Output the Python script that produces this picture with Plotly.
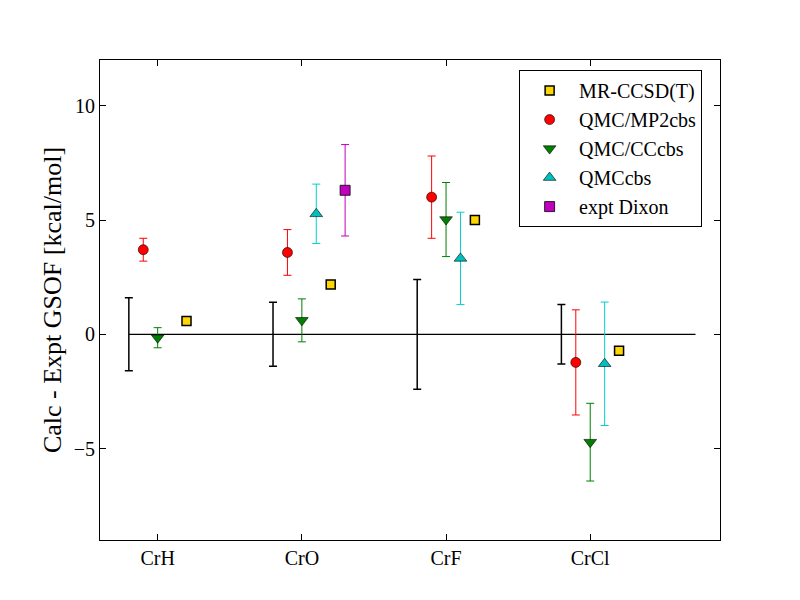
import plotly.graph_objects as go

categories = ["CrH", "CrO", "CrF", "CrCl"]
cat_pos = [1, 2, 3, 4]

# expt uncertainty (black bars)
expt_err = [1.6, 1.4, 2.4, 1.3]

mr_vals = [0.58, 2.18, 5.0, -0.72]

mp2_vals = [3.7, 3.58, 6.0, -1.23]
mp2_err = [0.5, 1.0, 1.8, 2.3]

cc_vals = [-0.15, 0.61, 5.02, -4.72]
cc_err = [0.44, 0.94, 1.62, 1.7]

qmc_cats = [2, 3, 4]
qmc_vals = [5.27, 3.32, -1.29]
qmc_err = [1.3, 2.02, 2.7]

dixon_cats = [2]
dixon_vals = [6.3]
dixon_err = [2.0]

zero_line_x = [0.8, 4.73]
zero_line_y = [0, 0]

FONT = "Liberation Serif"

fig = go.Figure()

# zero line
fig.add_trace(go.Scatter(x=zero_line_x, y=zero_line_y, mode="lines",
                         line=dict(color="black", width=1.3), showlegend=False,
                         hoverinfo="skip"))
# experimental uncertainty bars
fig.add_trace(go.Scatter(x=[c - 0.2 for c in cat_pos], y=[0] * 4, mode="markers",
                         marker=dict(size=1, color="black", opacity=0),
                         error_y=dict(type="data", array=expt_err, visible=True,
                                      color="black", thickness=1.5, width=4),
                         showlegend=False, hoverinfo="skip"))

fig.add_trace(go.Scatter(x=[c + 0.2 for c in cat_pos], y=mr_vals, mode="markers",
                         name="MR-CCSD(T)",
                         marker=dict(symbol="square", size=9, color="#FFD700",
                                     line=dict(color="black", width=1.5))))

fig.add_trace(go.Scatter(x=[c - 0.1 for c in cat_pos], y=mp2_vals, mode="markers",
                         name="QMC/MP2cbs",
                         marker=dict(symbol="circle", size=10, color="red",
                                     line=dict(color="black", width=0.6)),
                         error_y=dict(type="data", array=mp2_err, visible=True,
                                      color="red", thickness=1, width=4)))

fig.add_trace(go.Scatter(x=cat_pos, y=cc_vals, mode="markers",
                         name="QMC/CCcbs",
                         marker=dict(symbol="triangle-down", size=11, color="#007F00",
                                     line=dict(color="black", width=0.6)),
                         error_y=dict(type="data", array=cc_err, visible=True,
                                      color="#007F00", thickness=1, width=4)))

fig.add_trace(go.Scatter(x=[c + 0.1 for c in qmc_cats], y=qmc_vals, mode="markers",
                         name="QMCcbs",
                         marker=dict(symbol="triangle-up", size=11, color="#00BFBF",
                                     line=dict(color="black", width=0.6)),
                         error_y=dict(type="data", array=qmc_err, visible=True,
                                      color="#00D0D0", thickness=1, width=4)))

fig.add_trace(go.Scatter(x=[c + 0.3 for c in dixon_cats], y=dixon_vals, mode="markers",
                         name="expt Dixon",
                         marker=dict(symbol="square", size=10, color="#BF00BF",
                                     line=dict(color="black", width=0.8)),
                         error_y=dict(type="data", array=dixon_err, visible=True,
                                      color="#BF00BF", thickness=1, width=4)))

fig.update_layout(
    width=800, height=600,
    margin=dict(l=100, r=80, t=60, b=60),
    paper_bgcolor="white", plot_bgcolor="white",
    font=dict(family=FONT, size=20, color="black"),
    showlegend=True,
    legend=dict(x=0.676, y=0.979, xanchor="left", yanchor="top",
                bordercolor="black", borderwidth=1, bgcolor="white",
                font=dict(family=FONT, size=20),
                itemwidth=49, traceorder="normal"),
)
fig.update_xaxes(range=[0.6, 4.9], tickvals=cat_pos, ticktext=categories,
                 showgrid=False, zeroline=False, showline=True, linecolor="black",
                 linewidth=1, mirror="allticks", ticks="inside", ticklen=6,
                 tickcolor="black", tickfont=dict(family=FONT, size=20))
fig.update_yaxes(range=[-9, 12], tickvals=[-5, 0, 5, 10],
                 ticktext=["\u22125", "0", "5", "10"],
                 showgrid=False, zeroline=False, showline=True, linecolor="black",
                 linewidth=1, mirror="allticks", ticks="inside", ticklen=6,
                 tickcolor="black", tickfont=dict(family=FONT, size=20),
                 title=dict(text="Calc - Expt GSOF [kcal/mol]",
                            font=dict(family=FONT, size=26), standoff=4))

fig.write_html("out.html")
